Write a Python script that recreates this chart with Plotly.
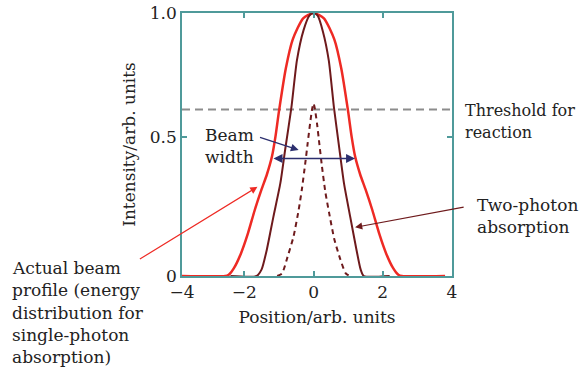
import plotly.graph_objects as go

# Single-photon (actual beam) profile, visual intensity units (peak = 1)
red_x = [-3.8, -2.55, -2.45, -2.3, -2.1, -1.9, -1.7, -1.5, -1.35, -1.2, -1.1, -1.0, -0.8, -0.6, -0.3, 0.0,
         0.3, 0.6, 0.8, 1.0, 1.1, 1.2, 1.35, 1.5, 1.7, 1.9, 2.1, 2.3, 2.45, 2.55, 3.8]
red_y = [0.0, 0.0, 0.005, 0.03, 0.085, 0.16, 0.25, 0.33, 0.385, 0.455, 0.53, 0.625, 0.79, 0.90, 0.98, 1.0,
         0.98, 0.90, 0.79, 0.625, 0.53, 0.455, 0.385, 0.33, 0.25, 0.16, 0.085, 0.03, 0.005, 0.0, 0.0]

# Two-photon absorption profile
tp_x = [-2.4, -1.64, -1.5, -1.35, -1.16, -0.96, -0.82, -0.64, -0.48, -0.29, -0.12, 0.0,
        0.12, 0.27, 0.44, 0.59, 0.75, 0.88, 1.06, 1.24, 1.36, 1.45, 2.2]
tp_y = [0.0, 0.0, 0.025, 0.10, 0.225, 0.352, 0.48, 0.64, 0.82, 0.934, 0.99, 1.0,
        0.99, 0.93, 0.82, 0.64, 0.48, 0.352, 0.225, 0.10, 0.025, 0.0, 0.0]

# Portion above threshold (dotted)
dot_x = [-1.05, -0.91, -0.75, -0.58, -0.43, -0.34, -0.24, -0.17, -0.10, -0.04, 0.0,
         0.04, 0.10, 0.17, 0.24, 0.34, 0.45, 0.60, 0.77, 0.93, 1.05]
dot_y = [0.0, 0.01, 0.073, 0.149, 0.251, 0.327, 0.428, 0.504, 0.58, 0.635, 0.656,
         0.635, 0.58, 0.50, 0.42, 0.32, 0.24, 0.14, 0.065, 0.01, 0.0]

threshold = 0.633
x_range = [-3.8, 4.0]
y_range = [0.0, 1.0]
x_tickvals = [-3.8, -2, 0, 2, 4]
x_ticktext = ["\u22124", "\u22122", "0", "2", "4"]
y_tickvals = [0.0, 0.527, 1.0]
y_ticktext = ["0", "0.5", "1.0"]

beam_label = ["Beam", "width"]
threshold_label = ["Threshold for", "reaction"]
twophoton_label = ["Two-photon", "absorption"]
actual_label = ["Actual beam", "profile (energy", "distribution for", "single-photon", "absorption)"]

RED = "#ee2a24"
DARK = "#6e1a1c"
NAVY = "#2c2f6e"
TEAL = "#4f9a9a"
FONT = "DejaVu Serif"
TXT = "#222222"
FS = 17

fig = go.Figure()
fig.add_trace(go.Scatter(x=[x_range[0], x_range[1]], y=[threshold, threshold], mode="lines",
                         line=dict(color="#8c8c8c", width=2, dash="8px,5px"), hoverinfo="skip"))
fig.add_trace(go.Scatter(x=red_x, y=red_y, mode="lines", line=dict(color=RED, width=2.5, shape="spline", smoothing=0.6)))
fig.add_trace(go.Scatter(x=tp_x, y=tp_y, mode="lines", line=dict(color=DARK, width=2, shape="spline", smoothing=0.6)))
fig.add_trace(go.Scatter(x=dot_x, y=dot_y, mode="lines", line=dict(color=DARK, width=2, dash="5px,4px", shape="spline", smoothing=0.6)))
fig.update_traces(cliponaxis=False)

ann = []
LINE = 0.0847  # line spacing in paper units (~22 px)

def block(x, y_first, lines, size=FS):
    for i, s in enumerate(lines):
        ann.append(dict(x=x, y=y_first - i * LINE, xref="paper", yref="paper", text=s, showarrow=False,
                        xanchor="left", yanchor="middle", font=dict(family=FONT, size=size, color=TXT)))

block(0.078, 0.536, beam_label)
block(1.041, 0.631, threshold_label, size=16)
block(1.085, 0.270, twophoton_label)
block(-0.637, 0.030, actual_label)

def arrow(x0, y0, x1, y1, color, width=1.3, side="end"):
    ann.append(dict(x=x1, y=y1, ax=x0, ay=y0, xref="x", yref="y", axref="x", ayref="y", text="",
                    showarrow=True, arrowhead=2, arrowsize=1.2, arrowwidth=width, arrowcolor=color,
                    arrowside=side, standoff=0, startstandoff=0))

arrow(-1.59, 0.529, -0.43, 0.479, NAVY)
arrow(-1.2, 0.447, 1.2, 0.447, NAVY, width=1.5, side="end+start")
arrow(-5.06, 0.061, -1.62, 0.339, RED, width=1.2)
arrow(4.38, 0.263, 1.2, 0.185, DARK, width=1.2)

fig.update_layout(
    width=587, height=369, showlegend=False,
    paper_bgcolor="white", plot_bgcolor="white",
    margin=dict(l=182, r=135, t=13, b=93, autoexpand=False),
    annotations=ann,
    font=dict(family=FONT, size=FS, color=TXT),
)
fig.update_xaxes(range=x_range, tickvals=x_tickvals, ticktext=x_ticktext, ticks="inside", ticklen=5,
                 tickcolor=TEAL, tickwidth=1.5, showline=True, linecolor=TEAL, linewidth=1.5, mirror="ticks",
                 showgrid=False, zeroline=False, automargin=False,
                 title=dict(text="Position/arb. units", font=dict(family=FONT, size=FS, color=TXT), standoff=10),
                 tickfont=dict(family=FONT, size=FS, color=TXT))
fig.update_yaxes(range=y_range, tickvals=y_tickvals, ticktext=y_ticktext, ticks="inside", ticklen=5,
                 tickcolor=TEAL, tickwidth=1.5, showline=True, linecolor=TEAL, linewidth=1.5, mirror="ticks",
                 showgrid=False, zeroline=False, automargin=False,
                 title=dict(text="Intensity/arb. units", font=dict(family=FONT, size=FS, color=TXT), standoff=10),
                 tickfont=dict(family=FONT, size=FS, color=TXT))

fig.write_html("out.html")
